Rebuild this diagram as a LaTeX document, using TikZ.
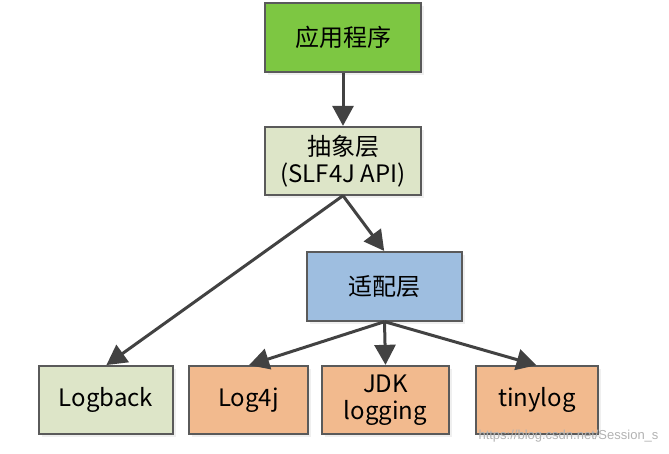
\documentclass[tikz,border=0pt]{standalone}
\usepackage{fontspec}
\setmainfont{Noto Sans CJK SC}
\newfontfamily\markfont{Liberation Sans}
\usepackage{tikz}
\usetikzlibrary{arrows.meta,shadows}

\definecolor{appgreen}{HTML}{7DC742}
\definecolor{apipale}{HTML}{DDE5C8}
\definecolor{adaptblue}{HTML}{9EBEE0}
\definecolor{logorange}{HTML}{F2BA8E}
\definecolor{boxline}{HTML}{5A5A5A}
\definecolor{arrowgray}{HTML}{424242}

\tikzset{
    layerbox/.style={draw=boxline, line width=1.3pt, align=center,
        inner sep=0pt, font=\fontsize{24}{27}\selectfont,
        drop shadow={shadow xshift=3pt, shadow yshift=-3pt, fill=black!12}},
    toplayer/.style={layerbox, fill=appgreen, minimum width=156pt, minimum height=69pt},
    apilayer/.style={layerbox, fill=apipale, minimum width=156pt, minimum height=68pt},
    adaptlayer/.style={layerbox, fill=adaptblue, minimum width=155pt, minimum height=69pt},
    implbox/.style={layerbox, minimum height=68pt},
    link/.style={draw=arrowgray, line width=3pt,
        -{Triangle[length=20pt,width=21pt]}, shorten >=0.5pt}
}

\begin{document}
\begin{tikzpicture}[x=1pt,y=-1pt]
\useasboundingbox (0,0) rectangle (669,453);
% Layers
\node[toplayer] (App) at (343,37.5) {应用程序};
\node[apilayer] (Api) at (343,161) {抽象层\\(SLF4J API)};
\node[adaptlayer] (Adapt) at (384.5,286.5) {适配层};
% Implementations
\node[implbox, fill=apipale, minimum width=134pt] (Logback) at (106,400) {Logback};
\node[implbox, fill=logorange, minimum width=119pt] (Log4j) at (248.5,400) {Log4j};
\node[implbox, fill=logorange, minimum width=127pt] (Jdk) at (385.5,400) {JDK\\logging};
\node[implbox, fill=logorange, minimum width=122pt] (Tiny) at (537,400) {tinylog};
% Arrows
\draw[link] (App.south) -- (Api.north);
\draw[link] (Api.south) -- (Adapt.north);
\draw[link] (Api.south) -- (Logback.north);
\draw[link] (Adapt.south) -- (Log4j.north);
\draw[link] (Adapt.south) -- (Jdk.north);
\draw[link] (Adapt.south) -- (Tiny.north);
% Watermark
\node[anchor=east, text=black!30, font=\markfont\fontsize{13}{15}\selectfont] (Mark) at (662,436) {https://blog.csdn.net/Session\_s};
\end{tikzpicture}
\end{document}
